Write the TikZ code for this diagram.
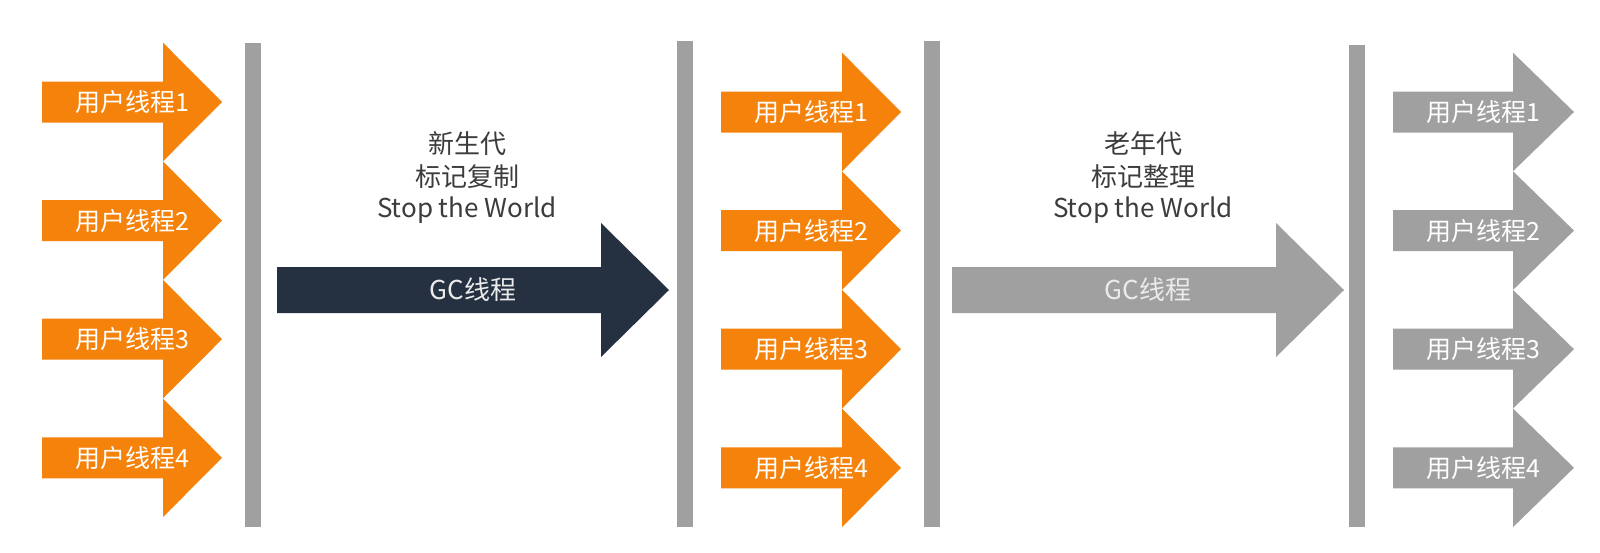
\documentclass[tikz,border=0pt]{standalone}
\usepackage{fontspec}
\setmainfont{Noto Sans CJK SC}
\definecolor{uorange}{HTML}{F5820A}
\definecolor{ugray}{HTML}{A0A0A0}
\definecolor{udark}{HTML}{253040}
\definecolor{utext}{HTML}{3C3C3C}
\tikzset{
  arrtext/.style={text=white, font=\fontsize{25}{28}\selectfont, inner sep=0pt},
  gctext/.style={text=white!92!black, font=\fontsize{26}{30}\selectfont, inner sep=0pt},
  lbltext/.style={text=utext, align=center, font=\fontsize{26}{32}\selectfont, inner sep=0pt},
  barstyle/.style={fill=ugray},
}
% #1 shaft left, #2 head base, #3 tip, #4 centre y, #5 colour, #6 name, #7 text
\newcommand{\uarr}[7]{%
  \fill[#5] (#1,-#4+20.5) -- (#2,-#4+20.5) -- (#2,-#4+59.3) -- (#3,-#4)
     -- (#2,-#4-59.3) -- (#2,-#4-20.5) -- (#1,-#4-20.5) -- cycle;
  \node[arrtext] (#6) at ({(#1+#3)/2},-#4) {#7};
}
\begin{document}
\begin{tikzpicture}[x=1pt,y=1pt]
\useasboundingbox[fill=white] (0,0) rectangle (1600,-552);
% bars
\fill[barstyle] (245,-43) rectangle (261,-527);
\fill[barstyle] (677,-41) rectangle (693,-527);
\fill[barstyle] (924,-41) rectangle (940,-527);
\fill[barstyle] (1349,-45) rectangle (1365,-527);
% left group
\foreach \i/\y in {1/102,2/220.6,3/339.2,4/457.8}{
  \uarr{42}{163}{222}{\y}{uorange}{la\i}{用户线程\i}
}
% middle group
\foreach \i/\y in {1/112,2/230.6,3/349.2,4/467.8}{
  \uarr{721}{842}{901}{\y}{uorange}{ma\i}{用户线程\i}
}
% right group
\foreach \i/\y in {1/112,2/230.6,3/349.2,4/467.8}{
  \uarr{1393}{1513}{1574}{\y}{ugray}{ra\i}{用户线程\i}
}
% big arrows
\fill[udark] (277,-267) -- (601,-267) -- (601,-223) -- (669,-290)
   -- (601,-357) -- (601,-313) -- (277,-313) -- cycle;
\node[gctext] (gc1) at (473,-290) {GC线程};
\fill[ugray] (952,-267) -- (1276,-267) -- (1276,-223) -- (1344,-290)
   -- (1276,-357) -- (1276,-313) -- (952,-313) -- cycle;
\node[gctext] (gc2) at (1148,-290) {GC线程};
% labels
\node[lbltext] (l1) at (467,-178) {新生代\\标记复制\\Stop the World};
\node[lbltext] (l2) at (1143,-178) {老年代\\标记整理\\Stop the World};
\end{tikzpicture}
\end{document}
